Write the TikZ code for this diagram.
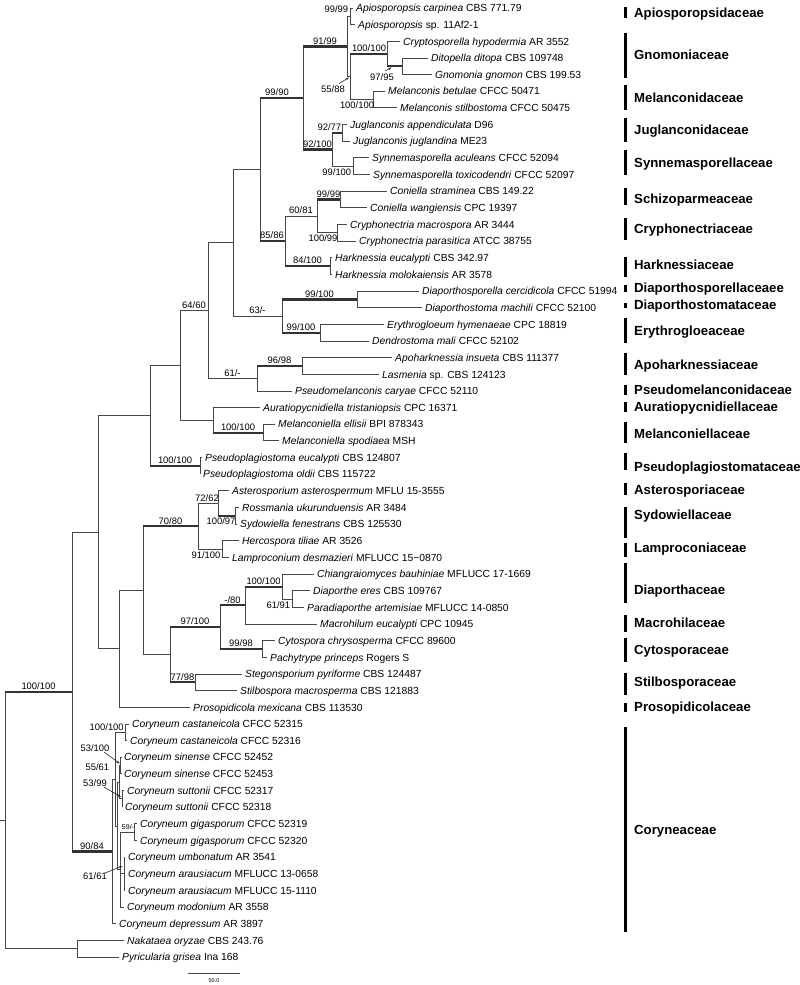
\documentclass[tikz,border=0pt]{standalone}
\usepackage{fontspec}
\setmainfont{Liberation Sans}
\usetikzlibrary{arrows.meta}
\newcommand\brn[2]{\draw[br] (#1) |- (#2);}
\newcommand\brt[2]{\draw[br] (#1) |- (#2); \draw[tb] (#1 |- #2) -- (#2);}
\begin{document}
\begin{tikzpicture}[x=1pt,y=-1pt,
 br/.style={draw=black!72,line width=0.9pt},
 tb/.style={draw=black!80,line width=2.2pt},
 tx/.style={anchor=west,inner xsep=3pt,inner ysep=0pt,text height=7.4pt,text depth=0pt,font=\fontsize{10.3}{12}\selectfont},
 bs/.style={inner sep=0.6pt,font=\fontsize{9.4}{11}\selectfont},
 bsm/.style={inner sep=0.4pt,font=\fontsize{7}{8}\selectfont},
 fam/.style={anchor=west,inner sep=0pt,text height=9.3pt,text depth=0pt,font=\bfseries\fontsize{13.2}{15}\selectfont},
 bar/.style={line width=3pt,draw=black},
 arr/.style={draw=black!85,line width=0.6pt,-{Stealth[length=3.5pt,width=2.6pt]}}]
\useasboundingbox (0,0) rectangle (800,985);

% ---------- leaves ----------
\node[tx] (L1) at (353,8) {\textit{Apiosporopsis carpinea} CBS 771.79};
\node[tx] (L2) at (355,24.65) {\textit{Apiosporopsis} sp. 11Af2-1};
\node[tx] (L3) at (400,41.3) {\textit{Cryptosporella hypodermia} AR 3552};
\node[tx] (L4) at (428,57.95) {\textit{Ditopella ditopa} CBS 109748};
\node[tx] (L5) at (432,74.6) {\textit{Gnomonia gnomon} CBS 199.53};
\node[tx] (L6) at (385,91.25) {\textit{Melanconis betulae} CFCC 50471};
\node[tx] (L7) at (397,107.9) {\textit{Melanconis stilbostoma} CFCC 50475};
\node[tx] (L8) at (347,124.55) {\textit{Juglanconis appendiculata} D96};
\node[tx] (L9) at (350,141.2) {\textit{Juglanconis juglandina} ME23};
\node[tx] (L10) at (369,157.85) {\textit{Synnemasporella aculeans} CFCC 52094};
\node[tx] (L11) at (370,174.5) {\textit{Synnemasporella toxicodendri} CFCC 52097};
\node[tx] (L12) at (387,191.15) {\textit{Coniella straminea} CBS 149.22};
\node[tx] (L13) at (367,207.8) {\textit{Coniella wangiensis} CPC 19397};
\node[tx] (L14) at (347,224.45) {\textit{Cryphonectria macrospora} AR 3444};
\node[tx] (L15) at (356,241.1) {\textit{Cryphonectria parasitica} ATCC 38755};
\node[tx] (L16) at (332,257.75) {\textit{Harknessia eucalypti} CBS 342.97};
\node[tx] (L17) at (332,274.4) {\textit{Harknessia molokaiensis} AR 3578};
\node[tx] (L18) at (419,291.05) {\textit{Diaporthosporella cercidicola} CFCC 51994};
\node[tx] (L19) at (422,307.7) {\textit{Diaporthostoma machili} CFCC 52100};
\node[tx] (L20) at (384,324.35) {\textit{Erythrogloeum hymenaeae} CPC 18819};
\node[tx] (L21) at (369,341) {\textit{Dendrostoma mali} CFCC 52102};
\node[tx] (L22) at (392,357.65) {\textit{Apoharknessia insueta} CBS 111377};
\node[tx] (L23) at (379,374.3) {\textit{Lasmenia} sp. CBS 124123};
\node[tx] (L24) at (292,390.95) {\textit{Pseudomelanconis caryae} CFCC 52110};
\node[tx] (L25) at (260,407.6) {\textit{Auratiopycnidiella tristaniopsis} CPC 16371};
\node[tx] (L26) at (275,424.25) {\textit{Melanconiella ellisii} BPI 878343};
\node[tx] (L27) at (279,440.9) {\textit{Melanconiella spodiaea} MSH};
\node[tx] (L28) at (202,457.55) {\textit{Pseudoplagiostoma eucalypti} CBS 124807};
\node[tx] (L29) at (200,474.2) {\textit{Pseudoplagiostoma oldii} CBS 115722};
\node[tx] (L30) at (229,490.85) {\textit{Asterosporium asterospermum} MFLU 15-3555};
\node[tx] (L31) at (239,507.5) {\textit{Rossmania ukurunduensis} AR 3484};
\node[tx] (L32) at (237,524.15) {\textit{Sydowiella fenestrans} CBS 125530};
\node[tx] (L33) at (239,540.8) {\textit{Hercospora tiliae} AR 3526};
\node[tx] (L34) at (229,557.45) {\textit{Lamproconium desmazieri} MFLUCC 15−0870};
\node[tx] (L35) at (314,574.1) {\textit{Chiangraiomyces bauhiniae} MFLUCC 17-1669};
\node[tx] (L36) at (310,590.75) {\textit{Diaporthe eres} CBS 109767};
\node[tx] (L37) at (304,607.4) {\textit{Paradiaporthe artemisiae} MFLUCC 14-0850};
\node[tx] (L38) at (317,624.05) {\textit{Macrohilum eucalypti} CPC 10945};
\node[tx] (L39) at (275,640.7) {\textit{Cytospora chrysosperma} CFCC 89600};
\node[tx] (L40) at (267,657.35) {\textit{Pachytrype princeps} Rogers S};
\node[tx] (L41) at (242,674) {\textit{Stegonsporium pyriforme} CBS 124487};
\node[tx] (L42) at (237,690.65) {\textit{Stilbospora macrosperma} CBS 121883};
\node[tx] (L43) at (190,707.3) {\textit{Prosopidicola mexicana} CBS 113530};
\node[tx] (L44) at (129,723.95) {\textit{Coryneum castaneicola} CFCC 52315};
\node[tx] (L45) at (127,740.6) {\textit{Coryneum castaneicola} CFCC 52316};
\node[tx] (L46) at (121,757.25) {\textit{Coryneum sinense} CFCC 52452};
\node[tx] (L47) at (121,773.9) {\textit{Coryneum sinense} CFCC 52453};
\node[tx] (L48) at (124,790.55) {\textit{Coryneum suttonii} CFCC 52317};
\node[tx] (L49) at (122,807.2) {\textit{Coryneum suttonii} CFCC 52318};
\node[tx] (L50) at (137,823.85) {\textit{Coryneum gigasporum} CFCC 52319};
\node[tx] (L51) at (137,840.5) {\textit{Coryneum gigasporum} CFCC 52320};
\node[tx] (L52) at (125,857.15) {\textit{Coryneum umbonatum} AR 3541};
\node[tx] (L53) at (125,873.8) {\textit{Coryneum arausiacum} MFLUCC 13-0658};
\node[tx] (L54) at (125,890.45) {\textit{Coryneum arausiacum} MFLUCC 15-1110};
\node[tx] (L55) at (124,907.1) {\textit{Coryneum modonium} AR 3558};
\node[tx] (L56) at (116,923.75) {\textit{Coryneum depressum} AR 3897};
\node[tx] (L57) at (124,940.4) {\textit{Nakataea oryzae} CBS 243.76};
\node[tx] (L58) at (119,957.05) {\textit{Pyricularia grisea} Ina 168};

% ---------- internal nodes ----------
\coordinate (rt) at (0,820.3);
\coordinate (root) at (5,820.3);
\coordinate (nIn) at (72,691.9);
\coordinate (nOut) at (77,948.7);
\coordinate (nW) at (98,532.3);
\coordinate (nP) at (150,415.6);
\coordinate (nQ) at (180,365.3);
\coordinate (n64) at (208,310.6);
\coordinate (n233) at (233,242.8);
\coordinate (n260) at (260,169.5);
\coordinate (n9990) at (303,98);
\coordinate (n9199) at (347,46.5);
\coordinate (nApio) at (350,16.3);
\coordinate (n5588) at (350,76.7);
\coordinate (nGnom) at (387,53.8);
\coordinate (n9795) at (402,66.3);
\coordinate (nMelc) at (373,99.6);
\coordinate (n92100) at (332,149.5);
\coordinate (n9277) at (342,132.9);
\coordinate (nSyn) at (353,166.2);
\coordinate (n8586) at (285,241);
\coordinate (n6081) at (317,216);
\coordinate (nCon) at (340,199.5);
\coordinate (nCry) at (337,232.8);
\coordinate (nHark) at (330,266);
\coordinate (n63) at (282,316);
\coordinate (nDps) at (357,299.4);
\coordinate (nEry) at (320,332.7);
\coordinate (n61) at (257,378.5);
\coordinate (n9698) at (302,366);
\coordinate (nAur) at (213,420);
\coordinate (nMel) at (263,432.6);
\coordinate (nPsp) at (200,465.9);
\coordinate (nR) at (119,648.9);
\coordinate (nS) at (143,590.5);
\coordinate (n7080) at (198,526.3);
\coordinate (n7262) at (218,503.3);
\coordinate (n10097) at (235,515.8);
\coordinate (n91100) at (222,549.1);
\coordinate (nT) at (170,654.8);
\coordinate (nU) at (220,627.2);
\coordinate (nV) at (245,605.3);
\coordinate (n100C) at (282,586.6);
\coordinate (n6191) at (292,599.1);
\coordinate (nCyt) at (262,649);
\coordinate (n7798) at (195,682.3);
\coordinate (nC0) at (112,851.4);
\coordinate (nY) at (115,779.2);
\coordinate (nCast) at (125,732.3);
\coordinate (nC1) at (117,826);
\coordinate (n5561) at (119,782.2);
\coordinate (nSin) at (120.5,765.6);
\coordinate (nSut) at (122,798.9);
\coordinate (nC2) at (120,869.7);
\coordinate (nGig) at (134,832.2);
\coordinate (n6161) at (124,873.8);

% ---------- branches ----------
\draw[br] (rt) -- (root);
\brt{root}{nIn} \brn{root}{nOut}
\brn{nOut}{L57.west} \brn{nOut}{L58.west}
\brn{nIn}{nW} \brt{nIn}{nC0}
\brn{nW}{nP} \brn{nW}{nR}
\brn{nP}{nQ} \brt{nP}{nPsp}
\brn{nQ}{n64} \brn{nQ}{nAur}
\brn{n64}{n233} \brn{n64}{n61}
\brn{n233}{n260} \brn{n233}{n63}
\brt{n260}{n9990} \brt{n260}{n8586}
\brt{n9990}{n9199} \brt{n9990}{n92100}
\brn{n9199}{nApio} \brn{n9199}{n5588}
\brn{nApio}{L1.west} \brn{nApio}{L2.west}
\brt{n5588}{nGnom} \brn{n5588}{nMelc}
\brn{nGnom}{L3.west} \brt{nGnom}{n9795}
\brn{n9795}{L4.west} \brn{n9795}{L5.west}
\brn{nMelc}{L6.west} \brn{nMelc}{L7.west}
\brt{n92100}{n9277} \brn{n92100}{nSyn}
\brn{n9277}{L8.west} \brn{n9277}{L9.west}
\brn{nSyn}{L10.west} \brn{nSyn}{L11.west}
\brn{n8586}{n6081} \brt{n8586}{nHark}
\brt{n6081}{nCon} \brn{n6081}{nCry}
\brn{nCon}{L12.west} \brn{nCon}{L13.west}
\brn{nCry}{L14.west} \brn{nCry}{L15.west}
\brn{nHark}{L16.west} \brn{nHark}{L17.west}
\brt{n63}{nDps} \brt{n63}{nEry}
\brn{nDps}{L18.west} \brn{nDps}{L19.west}
\brn{nEry}{L20.west} \brn{nEry}{L21.west}
\brt{n61}{n9698} \brn{n61}{L24.west}
\brn{n9698}{L22.west} \brn{n9698}{L23.west}
\brn{nAur}{L25.west} \brt{nAur}{nMel}
\brn{nMel}{L26.west} \brn{nMel}{L27.west}
\brn{nPsp}{L28.west} \brn{nPsp}{L29.west}
\brn{nR}{nS} \brn{nR}{L43.west}
\brt{nS}{n7080} \brn{nS}{nT}
\brn{n7080}{n7262} \brn{n7080}{n91100}
\brn{n7262}{L30.west} \brt{n7262}{n10097}
\brn{n10097}{L31.west} \brn{n10097}{L32.west}
\brn{n91100}{L33.west} \brn{n91100}{L34.west}
\brt{nT}{nU} \brt{nT}{n7798}
\brt{nU}{nV} \brt{nU}{nCyt}
\brt{nV}{n100C} \brn{nV}{L38.west}
\brn{n100C}{L35.west} \brn{n100C}{n6191}
\brn{n6191}{L36.west} \brn{n6191}{L37.west}
\brn{nCyt}{L39.west} \brn{nCyt}{L40.west}
\brn{n7798}{L41.west} \brn{n7798}{L42.west}
\brn{nC0}{nY} \brn{nC0}{L56.west}
\brn{nY}{nCast} \brn{nY}{nC1}
\brn{nCast}{L44.west} \brn{nCast}{L45.west}
\brn{nC1}{n5561} \brn{nC1}{nC2}
\brn{n5561}{nSin} \brn{n5561}{nSut}
\brn{nSin}{L46.west} \brn{nSin}{L47.west}
\brn{nSut}{L48.west} \brn{nSut}{L49.west}
\brn{nC2}{nGig} \brn{nC2}{n6161} \brn{nC2}{L55.west}
\brn{nGig}{L50.west} \brn{nGig}{L51.west}
\brn{n6161}{L52.west} \brn{n6161}{L53.west} \brn{n6161}{L54.west}

% ---------- support values ----------
\node[bs,anchor=east] (s1) at (349,9) {99/99};
\node[bs,anchor=south] (s2) at (325,45) {91/99};
\node[bs,anchor=south] (s3) at (369,52.5) {100/100};
\node[bs] (s4) at (382,77) {97/95};
\coordinate (a4s) at (385,71); \coordinate (a4t) at (391.5,67.5);
\draw[arr] (a4s) -- (a4t);
\node[bs] (s5) at (333,89) {55/88};
\coordinate (a5s) at (339,83.5); \coordinate (a5t) at (349,77.5);
\draw[arr] (a5s) -- (a5t);
\node[bs,anchor=north] (s6) at (357,101) {100/100};
\node[bs,anchor=south] (s7) at (277,96.5) {99/90};
\node[bs,anchor=south east] (s8) at (342,131.5) {92/77};
\node[bs,anchor=south] (s9) at (317.5,148) {92/100};
\node[bs,anchor=north east] (s10) at (352,167.5) {99/100};
\node[bs,anchor=south] (s11) at (328.5,198) {99/99};
\node[bs,anchor=south] (s12) at (301,214.5) {60/81};
\node[bs,anchor=north] (s13) at (323,234.3) {100/99};
\node[bs,anchor=south] (s14) at (272,239.5) {85/86};
\node[bs,anchor=south] (s15) at (307.5,264.5) {84/100};
\node[bs,anchor=south] (s16) at (319.5,298) {99/100};
\node[bs,anchor=south] (s17) at (257.5,314.5) {63/-};
\node[bs,anchor=south] (s18) at (301,331) {99/100};
\node[bs,anchor=south] (s19) at (279.5,364.5) {96/98};
\node[bs,anchor=south] (s20) at (232.5,377) {61/-};
\node[bs,anchor=south] (s21) at (194,309) {64/60};
\node[bs,anchor=south] (s22) at (238,431) {100/100};
\node[bs,anchor=south] (s23) at (175,464.5) {100/100};
\node[bs,anchor=south] (s24) at (207,502) {72/62};
\node[bs,anchor=north] (s25) at (221,517.3) {100/97};
\node[bs,anchor=south] (s26) at (170.5,525) {70/80};
\node[bs,anchor=north] (s27) at (206,550.6) {91/100};
\node[bs,anchor=south] (s28) at (263.5,585) {100/100};
\node[bs,anchor=south] (s29) at (232.5,604) {-/80};
\node[bs,anchor=north east] (s30) at (291,601) {61/91};
\node[bs,anchor=south] (s31) at (195,625.7) {97/100};
\node[bs,anchor=south] (s32) at (241,647.5) {99/98};
\node[bs,anchor=south] (s33) at (182.5,681) {77/98};
\node[bs,anchor=south] (s34) at (38.5,690.5) {100/100};
\node[bs,anchor=south] (s35) at (92,850) {90/84};
\node[bs,anchor=south east] (s36) at (124.5,731) {100/100};
\node[bs] (s37) at (95,748) {53/100};
\coordinate (a37s) at (104,752); \coordinate (a37t) at (119.7,763.5);
\draw[arr] (a37s) -- (a37t);
\node[bs,anchor=east] (s38) at (110,767.5) {55/61};
\node[bs] (s39) at (95,783) {53/99};
\coordinate (a39s) at (104,787); \coordinate (a39t) at (121,797);
\draw[arr] (a39s) -- (a39t);
\node[bsm,anchor=south] (s40) at (128,830.5) {59/-};
\node[bs] (s41) at (95,876) {61/61};
\coordinate (a41s) at (105,873); \coordinate (a41t) at (122.5,866);
\draw[arr] (a41s) -- (a41t);

% ---------- scale bar ----------
\coordinate (sb1) at (188,973);
\coordinate (sb2) at (240,973);
\draw[br] (sb1) -- (sb2);
\node[inner sep=0pt,font=\fontsize{5.5}{6}\selectfont] (sbl) at (214,981) {50.0};

% ---------- families ----------
\foreach \a/\b/\t/\n in {7/18/13/Apiosporopsidaceae, 33/78/55/Gnomoniaceae, 85/110/98/Melanconidaceae, 118/142/130/Juglanconidaceae, 150/175/163/Synnemasporellaceae, 188/205/199/Schizoparmeaceae, 218/240/229/Cryphonectriaceae, 257/277/265/Harknessiaceae, 285/292/288/Diaporthosporellaceaee, 303/308/305/Diaporthostomataceae, 318/343/331/Erythrogloeaceae, 353/375/365/Apoharknessiaceae, 385/395/390/Pseudomelanconidaceae, 402/412/407/Auratiopycnidiellaceae, 422/443/434/Melanconiellaceae, 453/470/467/Pseudoplagiostomataceae, 483/495/490/Asterosporiaceae, 507/538/515/Sydowiellaceae, 543/557/548/Lamproconiaceae, 563/603/590/Diaporthaceae, 615/632/623/Macrohilaceae, 638/662/650/Cytosporaceae, 673/695/682/Stilbosporaceae, 703/712/707/Prosopidicolaceae, 727/932/830/Coryneaceae}{
  \draw[bar] (625,\a) -- (625,\b);
  \node[fam] (F\n) at (634,\t) {\n};
}
\end{tikzpicture}
\end{document}
